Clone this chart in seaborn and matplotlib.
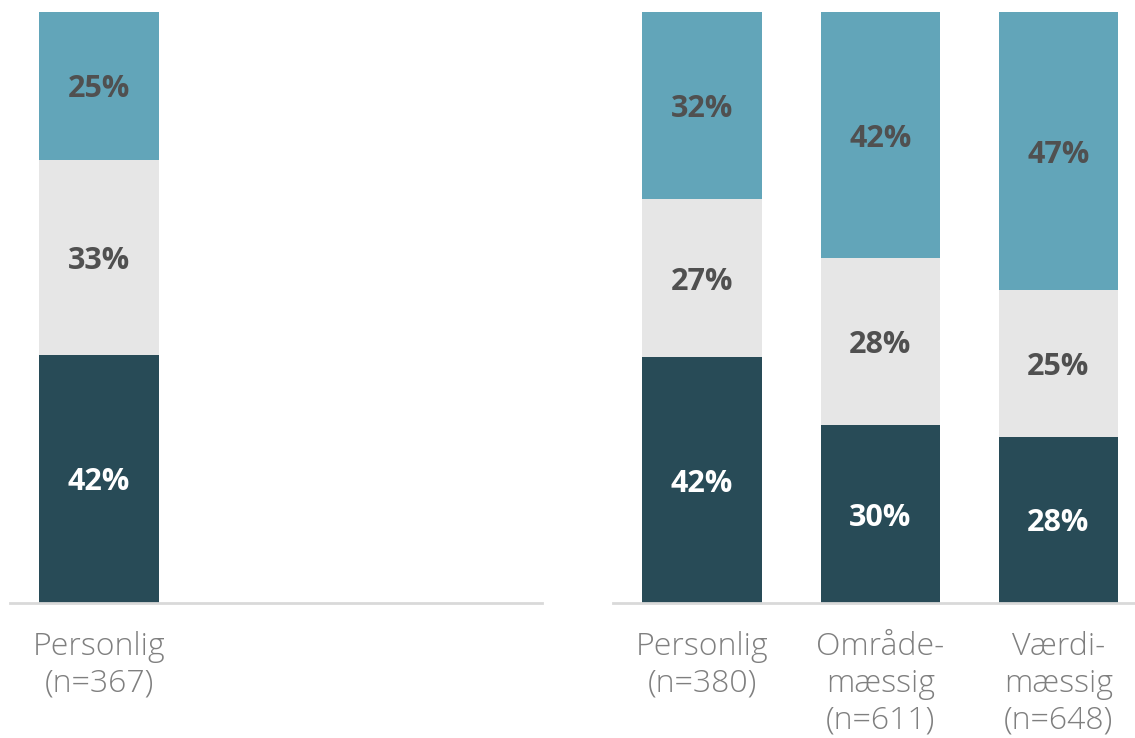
import numpy as np
import pandas as pd
import matplotlib.pyplot as plt
import seaborn as sns

# Data
left_cats = ["Personlig\n(n=367)"]
left_low = [42.0]
left_mid = [33.0]
left_high = [25.0]

right_cats = ["Personlig\n(n=380)", "Område-\nmæssig\n(n=611)", "Værdi-\nmæssig\n(n=648)"]
right_low = [41.6, 30.1, 28.1]
right_mid = [26.7, 28.2, 24.8]
right_high = [31.7, 41.7, 47.1]

low_labels_left = ["42%"]
mid_labels_left = ["33%"]
high_labels_left = ["25%"]
low_labels_right = ["42%", "30%", "28%"]
mid_labels_right = ["27%", "28%", "25%"]
high_labels_right = ["32%", "42%", "47%"]

DARK = "#284B57"
GREY = "#E6E6E6"
TEAL = "#62A5B9"
TXT = "#505050"

sns.set_style("white")
plt.rcParams["font.family"] = ["Open Sans", "DejaVu Sans"]

fig = plt.figure(figsize=(11.35, 7.38), dpi=100)
ax1 = fig.add_axes([10 / 1135, 1 - 603 / 738, 532 / 1135, 591 / 738])
ax2 = fig.add_axes([613 / 1135, 1 - 603 / 738, 522 / 1135, 591 / 738])


def draw(ax, cats, low, mid, high, lab_low, lab_mid, lab_high, xmax):
    df = pd.DataFrame({"cat": cats, "low": low, "mid": mid, "high": high})
    df["lm"] = df["low"] + df["mid"]
    df["tot"] = df["lm"] + df["high"]
    w = 0.67
    # overlapping bars from total down give the stacked look
    for col, c in [("tot", TEAL), ("lm", GREY), ("low", DARK)]:
        sns.barplot(data=df, x="cat", y=col, color=c, width=w, saturation=1,
                    linewidth=0, ax=ax)
    lab_kw = dict(ha="center", va="center_baseline", fontsize=22, fontweight="bold")
    for i, r in df.iterrows():
        ax.text(i, r["low"] / 2, lab_low[i], color="white", **lab_kw)
        ax.text(i, r["low"] + r["mid"] / 2, lab_mid[i], color=TXT, **lab_kw)
        ax.text(i, r["lm"] + r["high"] / 2, lab_high[i], color=TXT, **lab_kw)
    ax.set_xlim(-0.5, xmax)
    ax.set_ylim(0, 100)
    ax.set_xlabel("")
    ax.set_ylabel("")
    ax.set_yticks([])
    sns.despine(ax=ax, left=True)
    ax.spines["bottom"].set_color("#D9D9D9")
    ax.spines["bottom"].set_linewidth(2)
    ax.tick_params(axis="x", length=0, pad=20, labelsize=23, labelcolor="#7F7F7F")
    for t in ax.get_xticklabels():
        t.set_fontweight("light")
        t.set_multialignment("center")
        t.set_linespacing(1.2)


draw(ax1, left_cats, left_low, left_mid, left_high,
     low_labels_left, mid_labels_left, high_labels_left, 2.49)
draw(ax2, right_cats, right_low, right_mid, right_high,
     low_labels_right, mid_labels_right, high_labels_right, 2.43)

fig.savefig("out.png", dpi=100)
